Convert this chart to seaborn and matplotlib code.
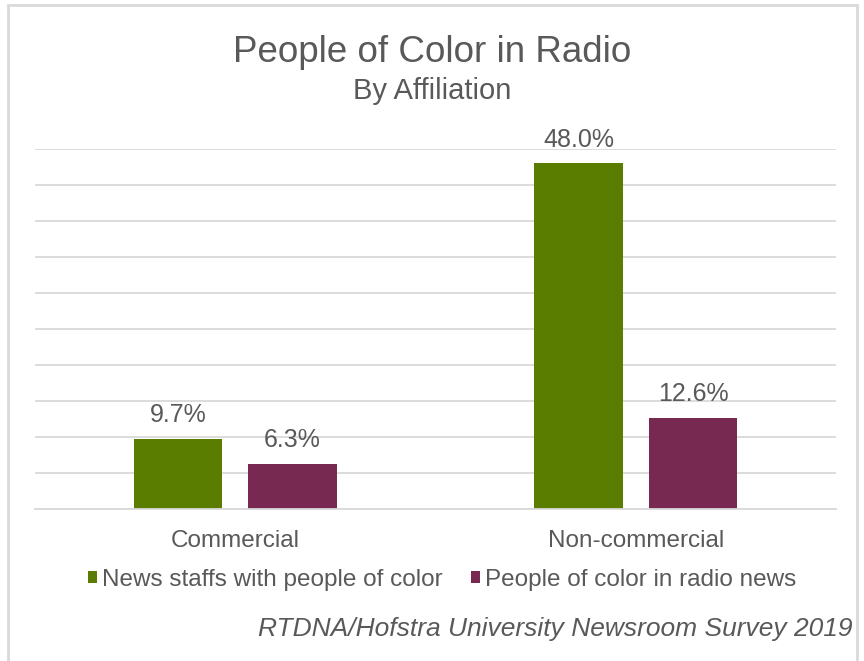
import matplotlib
matplotlib.use("Agg")
import matplotlib.pyplot as plt
import seaborn as sns
import pandas as pd
from matplotlib.patches import Rectangle

categories = ["Commercial", "Non-commercial"]
series_names = ["News staffs with people of color", "People of color in radio news"]
staffs_values = [9.7, 48.0]
people_values = [6.3, 12.6]
colors = ["#5A7D00", "#772951"]

df = pd.DataFrame({
    "Affiliation": categories * 2,
    "Series": [series_names[0]] * 2 + [series_names[1]] * 2,
    "Value": staffs_values + people_values,
})

sns.set_theme(style="white")
plt.rcParams["font.family"] = ["Liberation Sans", "DejaVu Sans"]
text_color = "#595959"
grid_color = "#D9D9D9"

fig = plt.figure(figsize=(8.64, 6.61), dpi=100)
ax = fig.add_axes([35 / 864, 1 - 509 / 661, (836 - 35) / 864, (509 - 149) / 661])

sns.barplot(data=df, x="Affiliation", y="Value", hue="Series", order=categories,
            hue_order=series_names, palette=colors, width=0.572, gap=0.23,
            saturation=1, edgecolor="none", linewidth=0, ax=ax)

ax.set_ylim(0, 50)
ax.set_yticks(range(0, 51, 5))
ax.yaxis.grid(True, color=grid_color, linewidth=1.3)
ax.set_axisbelow(True)
ax.set_yticklabels([])
ax.tick_params(axis="y", length=0)
ax.tick_params(axis="x", length=0, pad=15, labelsize=17.5, labelcolor=text_color)
for s in ["top", "right", "left"]:
    ax.spines[s].set_visible(False)
ax.spines["bottom"].set_color(grid_color)
ax.spines["bottom"].set_linewidth(1.3)
ax.set_xlabel("")
ax.set_ylabel("")

for cont in ax.containers:
    ax.bar_label(cont, labels=[f"{v:.1f}%" for v in cont.datavalues],
                 padding=8.5, fontsize=18, color=text_color)

handles, labels = ax.get_legend_handles_labels()
ax.get_legend().remove()
fig.legend(handles, labels, loc="center", bbox_to_anchor=(0.5116, 1 - 580 / 661),
           ncol=2, frameon=False, fontsize=17.5, labelcolor=text_color,
           handlelength=0.4, handleheight=0.4, handletextpad=0.2, columnspacing=1.15)

fig.text(0.5, 1 - 62 / 661, "People of Color in Radio", ha="center", va="baseline",
         fontsize=26.5, color=text_color)
fig.text(0.5, 1 - 99 / 661, "By Affiliation", ha="center", va="baseline",
         fontsize=21, color=text_color)
fig.text(852 / 864, 1 - 636 / 661, "RTDNA/Hofstra University Newsroom Survey 2019",
         ha="right", va="baseline", fontsize=19, style="italic", color=text_color)

fig.patches.append(Rectangle((8 / 864, -0.05), (857 - 8) / 864, 1.05 - 5 / 661,
                             transform=fig.transFigure, fill=False,
                             edgecolor=grid_color, linewidth=2))

fig.savefig("out.png", dpi=100)
